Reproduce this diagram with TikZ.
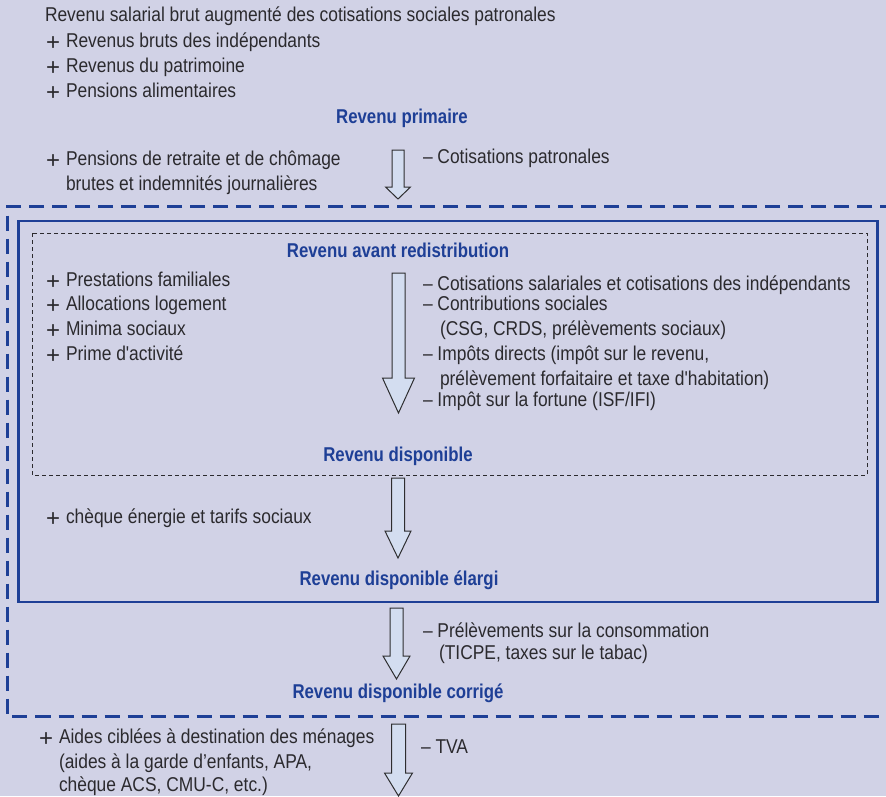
\documentclass[tikz,border=0pt]{standalone}
\usepackage{fontspec}
\newfontfamily\dgfont{Liberation Sans}[FakeStretch=0.87,BoldFeatures={FakeStretch=0.84}]
\newfontfamily\plusfont{Liberation Sans}
\definecolor{bgc}{HTML}{D1D2E6}
\definecolor{bluec}{HTML}{1E3F96}
\definecolor{txtc}{HTML}{2B2A2E}
\definecolor{arrowfill}{HTML}{D3DDF0}
\definecolor{arrowline}{HTML}{2E2E30}
\newcommand\flowarrow[6]{%
  \draw[flow] (#1-#5,#2) -- (#1+#5,#2) -- (#1+#5,#3) -- (#1+#6,#3) -- (#1,#4)
    -- (#1-#6,#3) -- (#1-#5,#3) -- cycle;}
\begin{document}
\begin{tikzpicture}[x=1pt,y=-1pt,
  txt/.style={anchor=base west, inner sep=0pt, outer sep=0pt, text=txtc,
    font=\dgfont\fontsize{20}{24}\selectfont},
  plus/.style={anchor=base west, inner sep=0pt, outer sep=0pt, text=txtc,
    font=\plusfont\fontsize{24}{28}\selectfont, yshift=-3pt},
  ttl/.style={anchor=base, inner sep=0pt, outer sep=0pt, text=bluec,
    font=\dgfont\bfseries\fontsize{20}{24}\selectfont},
  flow/.style={draw=arrowline, fill=arrowfill, line width=1pt, line join=miter},
  outerbox/.style={draw=bluec, line width=3pt, dash pattern=on 15pt off 8pt},
  solidbox/.style={draw=bluec, line width=2.5pt},
  innerbox/.style={draw=txtc, line width=1pt, dash pattern=on 4pt off 3pt}]
\fill[bgc] (0,0) rectangle (886,796);
\useasboundingbox (0,0) rectangle (886,796);
\begin{scope}
\clip (0,0) rectangle (886,796);
% boxes
\draw[outerbox] (895,206.5) -- (7,206.5) -- (7,716) -- (895,716);
\draw[solidbox] (18.5,221) rectangle (877.5,602);
\draw[innerbox] (32,233) rectangle (867,475);
% arrows
\flowarrow{398}{150}{187}{199}{6}{12.5}
\flowarrow{398.5}{273}{378}{413}{6.5}{16}
\flowarrow{398}{478}{531}{558}{6.5}{13}
\flowarrow{396.5}{608}{656}{679}{6.5}{13.5}
\flowarrow{398.5}{724}{773}{796}{7}{14}
\end{scope}
% top block
\node[txt] (l1) at (45,21) {Revenu salarial brut augmenté des cotisations sociales patronales};
\node[plus] (p2) at (46,47) {+};
\node[txt] (l2) at (66,47) {Revenus bruts des indépendants};
\node[plus] (p3) at (46,72) {+};
\node[txt] (l3) at (66,72) {Revenus du patrimoine};
\node[plus] (p4) at (46,97) {+};
\node[txt] (l4) at (66,97) {Pensions alimentaires};
\node[ttl] (prim) at (402,123) {Revenu primaire};
\node[plus] (p5) at (46,165) {+};
\node[txt] (l5) at (66,165) {Pensions de retraite et de chômage};
\node[txt] (l5b) at (66,190) {brutes et indemnités journalières};
\node[txt] (cotp) at (423,163) {– Cotisations patronales};
% main box
\node[ttl] (avant) at (398,257) {Revenu avant redistribution};
\node[plus] (p6) at (46,286) {+};
\node[txt] (l6) at (66,286) {Prestations familiales};
\node[plus] (p7) at (46,310) {+};
\node[txt] (l7) at (66,310) {Allocations logement};
\node[plus] (p8) at (46,335.5) {+};
\node[txt] (l8) at (66,335.5) {Minima sociaux};
\node[plus] (p9) at (46,360.5) {+};
\node[txt] (l9) at (66,360.5) {Prime d'activité};
\node[txt] (r1) at (423,290.5) {– Cotisations salariales et cotisations des indépendants};
\node[txt] (r2) at (423,310.5) {– Contributions sociales};
\node[txt] (r2b) at (440,335) {(CSG, CRDS, prélèvements sociaux)};
\node[txt] (r3) at (423,360) {– Impôts directs (impôt sur le revenu,};
\node[txt] (r3b) at (440,385.5) {prélèvement forfaitaire et taxe d'habitation)};
\node[txt] (r4) at (423,406.5) {– Impôt sur la fortune (ISF/IFI)};
\node[ttl] (dispo) at (398,461) {Revenu disponible};
\node[plus] (p10) at (46,523) {+};
\node[txt] (l10) at (66,523) {chèque énergie et tarifs sociaux};
\node[ttl] (elargi) at (399,585) {Revenu disponible élargi};
% outer box rest
\node[txt] (r5) at (423,637) {– Prélèvements sur la consommation};
\node[txt] (r5b) at (439,659) {(TICPE, taxes sur le tabac)};
\node[ttl] (corr) at (398,698) {Revenu disponible corrigé};
% bottom
\node[plus] (p11) at (39,743) {+};
\node[txt] (l11) at (59,743) {Aides ciblées à destination des ménages};
\node[txt] (l11b) at (59,768) {(aides à la garde d’enfants, APA,};
\node[txt] (l11c) at (59,791) {chèque ACS, CMU-C, etc.)};
\node[txt] (tva) at (421,753) {– TVA};
\end{tikzpicture}
\end{document}
